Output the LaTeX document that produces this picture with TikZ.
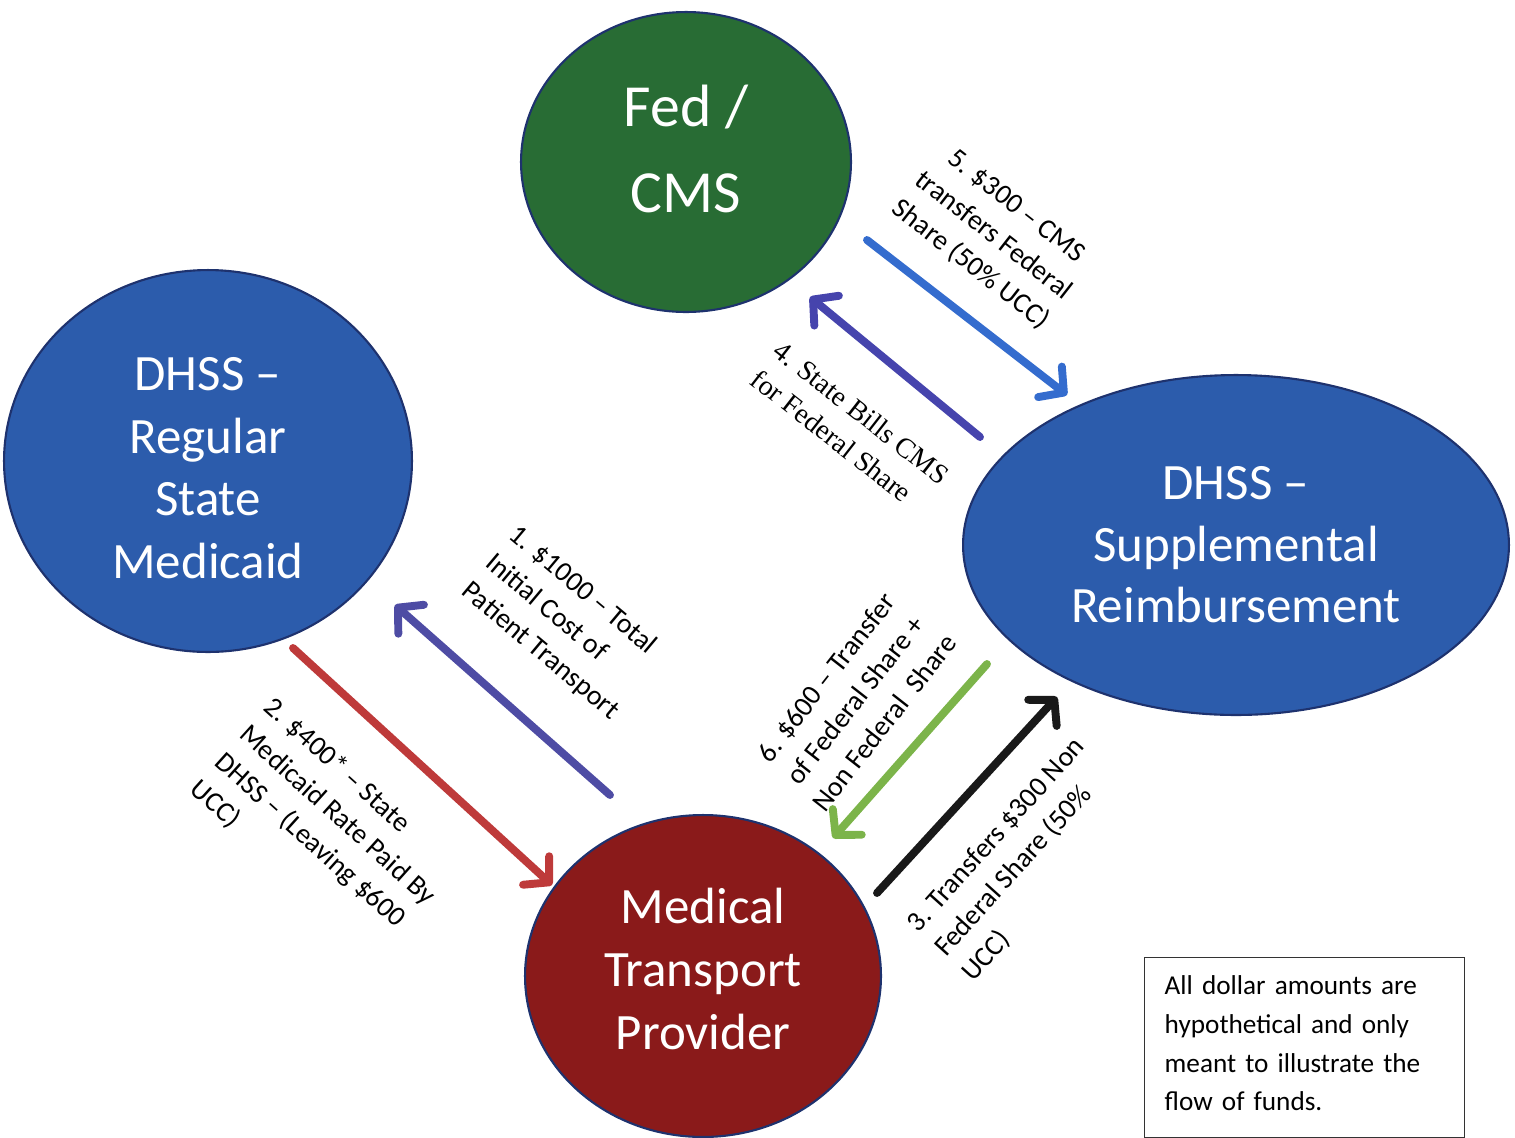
\documentclass[tikz,border=0pt]{standalone}
\usepackage{fontspec}
\setmainfont{Carlito}
\newfontfamily\timesfont{Liberation Serif}
\usetikzlibrary{arrows.meta,shapes.geometric}
\definecolor{fedgreen}{RGB}{40,108,52}
\definecolor{dhssblue}{RGB}{44,92,172}
\definecolor{provred}{RGB}{138,26,26}
\definecolor{rimblue}{RGB}{30,50,110}
\definecolor{ablue}{RGB}{52,108,206}
\definecolor{apurple}{RGB}{78,76,164}
\definecolor{ared}{RGB}{190,58,58}
\definecolor{agreen}{RGB}{124,180,74}

\begin{document}
\begin{tikzpicture}[x=0.02cm,y=-0.02cm,
	party/.style={ellipse, draw=rimblue, line width=1.2pt, text=white, align=center, inner sep=0pt},
	flow/.style={line width=4.5pt, line cap=round, -{Straight Barb[length=10pt,width=22pt,line join=round,line cap=round]}},
	lbl/.style={font=\fontsize{16}{21}\selectfont, inner sep=0pt}]
	%%%%% START %%%%%
	\useasboundingbox (0,0) rectangle (1515,1137);
	
	\node[party, fill=fedgreen, minimum width=6.6cm, minimum height=6cm, font=\fontsize{34}{49}\selectfont] (fed) at (686,162) {Fed /\\CMS\rule[-15pt]{0pt}{0pt}};
	\node[party, fill=dhssblue, minimum width=8.16cm, minimum height=7.64cm, font=\fontsize{29}{35.5}\selectfont] (reg) at (208,461) {\rule{0pt}{27pt}DHSS --\\Regular\\State\\Medicaid};
	\node[party, fill=dhssblue, minimum width=10.92cm, minimum height=6.8cm, font=\fontsize{29}{35}\selectfont] (sup) at (1236,545) {DHSS --\\Supplemental\\Reimbursement};
	\node[party, fill=provred, minimum width=7.12cm, minimum height=6.44cm, font=\fontsize{29}{36}\selectfont] (med) at (703,976) {Medical\\Transport\\Provider\rule[-8pt]{0pt}{0pt}};
	
	% arrow ends
	\coordinate (a1s) at (610,795); \coordinate (a1e) at (395,605);
	\coordinate (a2s) at (293,648); \coordinate (a2e) at (552,885);
	\coordinate (a3s) at (877,893); \coordinate (a3e) at (1057,697);
	\coordinate (a4s) at (980,437); \coordinate (a4e) at (810,297);
	\coordinate (a5s) at (867,240); \coordinate (a5e) at (1067,395);
	\coordinate (a6s) at (987,664); \coordinate (a6e) at (833,838);
	
	\draw[flow, apurple] (a1s) -- (a1e);
	\draw[flow, ared] (a2s) -- (a2e);
	\draw[flow, black!90] (a3s) -- (a3e);
	\draw[flow, apurple!90!blue] (a4s) -- (a4e);
	\draw[flow, ablue] (a5s) -- (a5e);
	\draw[flow, agreen] (a6s) -- (a6e);
	
	\node[lbl, rotate=-40, align=left] (l1) at (564,623) {1. \$1000 -- Total\\Initial Cost of\\Patient Transport};
	\node[lbl, rotate=-42, align=left] (l2) at (325,829) {2. \$400* -- State\\Medicaid Rate Paid By\\DHSS -- (Leaving \$600\\UCC)};
	\node[lbl, rotate=48, align=left] (l3) at (1024,860) {3. Transfers \$300 Non\\Federal Share (50\%\\UCC)};
	\node[lbl, rotate=-38, align=left, font=\timesfont\fontsize{16}{21}\selectfont] (l4) at (850,427) {4. State Bills CMS\\for Federal Share};
	\node[lbl, rotate=-38, align=center] (l5) at (993,236) {5. \$300 -- CMS\\transfers Federal\\Share (50\% UCC)};
	\node[lbl, rotate=52, align=center] (l6) at (855,700) {6. \$600 -- Transfer\\of Federal Share +\\Non Federal\ \ Share};
	
	\node[draw=black!80, line width=0.8pt, anchor=north west, text width=5.6cm, inner xsep=0.4cm, inner ysep=0pt, minimum height=3.6cm, align=left, font=\fontsize{15.5}{22}\selectfont] (note) at (1144,957) {All dollar amounts are\\hypothetical and only\\meant to illustrate the\\flow of funds.\rule[-5pt]{0pt}{0pt}};
	%%%%% END %%%%%
\end{tikzpicture}
\end{document}
